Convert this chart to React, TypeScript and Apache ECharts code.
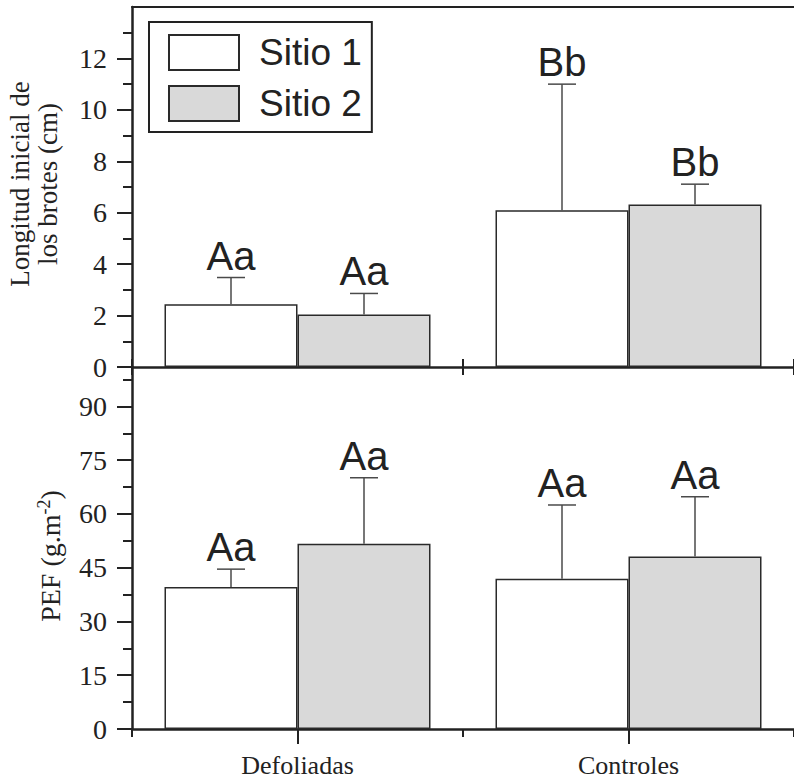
import React, { useEffect, useRef } from "react";
import * as echarts from "echarts";

// ---------- data ----------
const categories = ["Defoliadas", "Controles"];
const seriesNames = ["Sitio 1", "Sitio 2"];

// Top panel: Longitud inicial de los brotes (cm)
const longS1 = [2.44, 6.1];
const longS1Upper = [3.48, 11.0];
const longS2 = [2.04, 6.32];
const longS2Upper = [2.86, 7.11];
const longS1Letters = ["Aa", "Bb"];
const longS2Letters = ["Aa", "Bb"];

// Bottom panel: PEF (g.m-2)
const pefS1 = [39.6, 41.9];
const pefS1Upper = [44.6, 62.5];
const pefS2 = [51.7, 48.1];
const pefS2Upper = [70.1, 64.8];
const pefS1Letters = ["Aa", "Aa"];
const pefS2Letters = ["Aa", "Aa"];

// Axis ticks
const topMax = 14;
const topMajorTicks = [0, 2, 4, 6, 8, 10, 12];
const topMinorTicks = [1, 3, 5, 7, 9, 11, 13];
const bottomMax = 101;
const bottomMajorTicks = [0, 15, 30, 45, 60, 75, 90];
const bottomMinorTicks = [7.5, 22.5, 37.5, 52.5, 67.5, 82.5, 97.5];

// ---------- styles ----------
const INK = "#222";
const SERIF = "Liberation Serif, Times New Roman, serif";
const SANS = "Liberation Sans, Arial, sans-serif";
const BAR_W = 133;
const CAP = 14;

function buildErrData(
  s1: number[], s1u: number[], s2: number[], s2u: number[],
  l1: string[], l2: string[]
) {
  const data: number[][] = [];
  const letters: string[] = [];
  categories.forEach((_, i) => {
    data.push([i, s1[i], s1u[i], 0]);
    letters.push(l1[i]);
    data.push([i, s2[i], s2u[i], 1]);
    letters.push(l2[i]);
  });
  return { data, letters };
}

function errSeries(xIdx: number, yIdx: number, d: { data: number[][]; letters: string[] }) {
  return {
    type: "custom",
    xAxisIndex: xIdx,
    yAxisIndex: yIdx,
    clip: false,
    silent: true,
    z: 5,
    data: d.data,
    renderItem: (params: any, api: any) => {
      const cat = api.value(0);
      const mean = api.value(1);
      const up = api.value(2);
      const s = api.value(3);
      const b = api.coord([cat, mean]);
      const t = api.coord([cat, up]);
      const x = b[0] + (s === 0 ? -1 : 1) * (BAR_W / 2);
      const lineStyle = { stroke: "#4a4a4a", lineWidth: 1.5 };
      return {
        type: "group",
        children: [
          { type: "line", shape: { x1: x, y1: b[1], x2: x, y2: t[1] }, style: lineStyle },
          { type: "line", shape: { x1: x - CAP, y1: t[1], x2: x + CAP, y2: t[1] }, style: lineStyle },
          {
            type: "text",
            x: x,
            y: t[1] - 2,
            style: {
              text: d.letters[params.dataIndex],
              fontSize: 40,
              fontFamily: SANS,
              fill: INK,
              align: "center",
              verticalAlign: "bottom",
              textAlign: "center",
              textVerticalAlign: "bottom",
            },
          },
        ],
      };
    },
  };
}

export default function App() {
  const ref = useRef<HTMLDivElement>(null);

  useEffect(() => {
    if (!ref.current) return;
    const chart = echarts.init(ref.current, undefined, { renderer: "svg" });

    const topErr = buildErrData(longS1, longS1Upper, longS2, longS2Upper, longS1Letters, longS2Letters);
    const botErr = buildErrData(pefS1, pefS1Upper, pefS2, pefS2Upper, pefS1Letters, pefS2Letters);

    const axisLine = { show: true, lineStyle: { color: INK, width: 2.5 } };
    const tickLine = { color: INK, width: 2 };
    const tickFont = { fontSize: 28, fontFamily: SERIF, color: INK };

    const barStyle = (fill: string) => ({
      color: fill,
      borderColor: "#2a2a2a",
      borderWidth: 1.5,
    });

    const option: any = {
      animation: false,
      backgroundColor: "#fff",
      legend: {
        orient: "vertical",
        left: 149,
        top: 22,
        data: seriesNames,
        icon: "rect",
        itemWidth: 70,
        itemHeight: 35,
        itemGap: 14,
        padding: [12, 10, 10, 19],
        borderColor: INK,
        borderWidth: 2,
        backgroundColor: "#fff",
        selectedMode: false,
        textStyle: {
          fontSize: 37,
          fontFamily: SANS,
          color: INK,
          padding: [0, 0, 0, 15],
        },
        z: 10,
      },
      grid: [
        { left: 132, top: 7, width: 672, height: 360 },
        { left: 132, top: 367, width: 672, height: 363 },
      ],
      xAxis: [
        {
          type: "category", gridIndex: 0, data: categories, position: "bottom",
          axisLine, axisTick: { show: true, alignWithLabel: false, length: 8, lineStyle: tickLine },
          axisLabel: { show: false }, splitLine: { show: false },
        },
        {
          type: "category", gridIndex: 0, data: categories, position: "bottom",
          axisLine: { show: false },
          axisTick: { show: true, inside: true, alignWithLabel: false, length: 8, lineStyle: tickLine },
          axisLabel: { show: false }, splitLine: { show: false },
        },
        {
          type: "category", gridIndex: 0, data: categories, position: "top",
          axisLine: { show: true, lineStyle: { color: INK, width: 2 } },
          axisTick: { show: false }, axisLabel: { show: false }, splitLine: { show: false },
        },
        {
          type: "category", gridIndex: 1, data: categories, position: "bottom",
          axisLine,
          axisTick: { show: true, alignWithLabel: true, length: 15, lineStyle: tickLine },
          axisLabel: { show: true, fontSize: 26, fontFamily: SERIF, color: INK, margin: 23 },
          splitLine: { show: false },
        },
        {
          type: "category", gridIndex: 1, data: categories, position: "bottom",
          axisLine: { show: false },
          axisTick: { show: true, alignWithLabel: false, length: 8, lineStyle: tickLine },
          axisLabel: { show: false }, splitLine: { show: false },
        },
      ],
      yAxis: [
        {
          type: "value", gridIndex: 0, min: 0, max: topMax, position: "left",
          axisLine,
          axisTick: { show: true, length: 15, lineStyle: tickLine, customValues: topMajorTicks },
          axisLabel: { show: true, ...tickFont, margin: 25, customValues: topMajorTicks },
          splitLine: { show: false },
        },
        {
          type: "value", gridIndex: 0, min: 0, max: topMax, position: "left",
          axisLine: { show: false },
          axisTick: { show: true, length: 9, lineStyle: tickLine, customValues: topMinorTicks },
          axisLabel: { show: false }, splitLine: { show: false },
        },
        {
          type: "value", gridIndex: 1, min: 0, max: bottomMax, position: "left",
          axisLine,
          axisTick: { show: true, length: 15, lineStyle: tickLine, customValues: bottomMajorTicks },
          axisLabel: { show: true, ...tickFont, margin: 25, customValues: bottomMajorTicks },
          splitLine: { show: false },
        },
        {
          type: "value", gridIndex: 1, min: 0, max: bottomMax, position: "left",
          axisLine: { show: false },
          axisTick: { show: true, length: 9, lineStyle: tickLine, customValues: bottomMinorTicks },
          axisLabel: { show: false }, splitLine: { show: false },
        },
      ],
      graphic: [
        {
          type: "text",
          x: 34,
          y: 184,
          rotation: Math.PI / 2,
          style: {
            text: "Longitud inicial de\nlos brotes (cm)",
            fontSize: 27,
            lineHeight: 28,
            fontFamily: SERIF,
            fill: INK,
            align: "center",
            verticalAlign: "middle",
            textAlign: "center",
            textVerticalAlign: "middle",
          },
        },
        {
          type: "text",
          x: 50,
          y: 556,
          rotation: Math.PI / 2,
          style: {
            text: "PEF (g.m{sup|-2})",
            fontSize: 28,
            fontFamily: SERIF,
            fill: INK,
            align: "center",
            verticalAlign: "middle",
            textAlign: "center",
            textVerticalAlign: "middle",
            rich: {
              sup: { fontSize: 18, fontFamily: SERIF, fill: INK, padding: [0, 0, 12, 0] },
            },
          },
        },
      ],
      series: [
        {
          name: seriesNames[0], type: "bar", xAxisIndex: 0, yAxisIndex: 0,
          data: longS1, barWidth: BAR_W, barGap: "0%", itemStyle: barStyle("#ffffff"),
        },
        {
          name: seriesNames[1], type: "bar", xAxisIndex: 0, yAxisIndex: 0,
          data: longS2, barWidth: BAR_W, barGap: "0%", itemStyle: barStyle("#d9d9d9"),
        },
        errSeries(0, 0, topErr),
        {
          name: seriesNames[0], type: "bar", xAxisIndex: 3, yAxisIndex: 2,
          data: pefS1, barWidth: BAR_W, barGap: "0%", itemStyle: barStyle("#ffffff"),
        },
        {
          name: seriesNames[1], type: "bar", xAxisIndex: 3, yAxisIndex: 2,
          data: pefS2, barWidth: BAR_W, barGap: "0%", itemStyle: barStyle("#d9d9d9"),
        },
        errSeries(3, 2, botErr),
      ],
    };

    chart.setOption(option);
    return () => chart.dispose();
  }, []);

  return (
    <div
      ref={ref}
      style={{ position: "absolute", left: 0, top: 0, width: 794, height: 778, background: "#fff" }}
    />
  );
}
